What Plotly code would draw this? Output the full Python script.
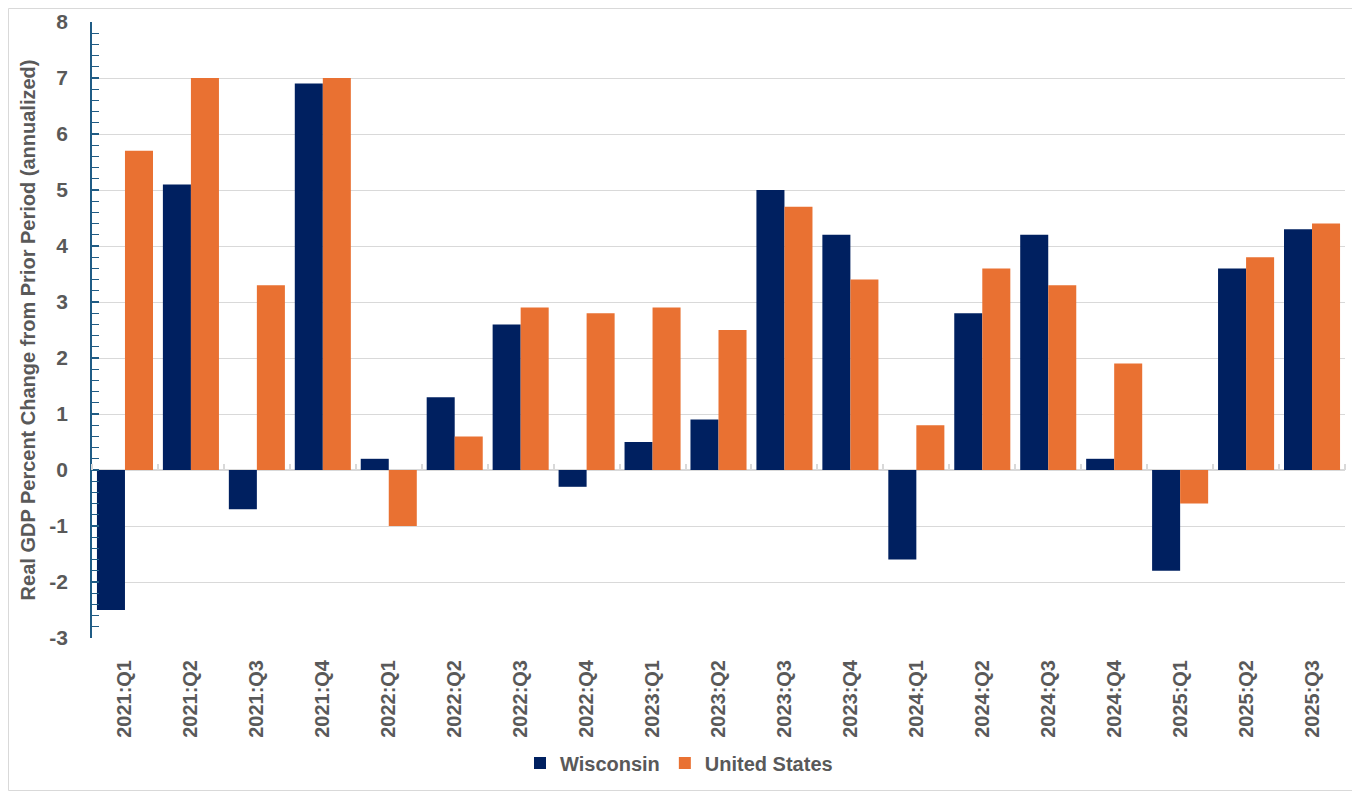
import plotly.graph_objects as go

quarters = ["2021:Q1", "2021:Q2", "2021:Q3", "2021:Q4",
            "2022:Q1", "2022:Q2", "2022:Q3", "2022:Q4",
            "2023:Q1", "2023:Q2", "2023:Q3", "2023:Q4",
            "2024:Q1", "2024:Q2", "2024:Q3", "2024:Q4",
            "2025:Q1", "2025:Q2", "2025:Q3"]
wisconsin = [-2.5, 5.1, -0.7, 6.9, 0.2, 1.3, 2.6, -0.3, 0.5, 0.9,
             5.0, 4.2, -1.6, 2.8, 4.2, 0.2, -1.8, 3.6, 4.3]
united_states = [5.7, 7.0, 3.3, 7.0, -1.0, 0.6, 2.9, 2.8, 2.9, 2.5,
                 4.7, 3.4, 0.8, 3.6, 3.3, 1.9, -0.6, 3.8, 4.4]
y_ticks = [-3, -2, -1, 0, 1, 2, 3, 4, 5, 6, 7, 8]
y_tick_labels = ["-3", "-2", "-1", "0", "1", "2", "3", "4", "5", "6", "7", "8"]

gray = "#595959"
font_family = "Liberation Sans, Arial, sans-serif"
y_min, y_max = -3, 8

fig = go.Figure()
fig.add_trace(go.Bar(x=quarters, y=wisconsin, name="Wisconsin",
                     marker_color="#002060", marker_line_width=0))
fig.add_trace(go.Bar(x=quarters, y=united_states, name="United States",
                     marker_color="#E97132", marker_line_width=0))

# page body has an 8px margin, so the figure is a bit smaller than the window
W, H = 1352, 783
ml, mr, mt, mb = 84, 15, 14, 153
pw, ph = W - ml - mr, H - mt - mb

fig.update_layout(
    width=W, height=H,
    barmode="group", bargap=0.15, bargroupgap=0,
    plot_bgcolor="white", paper_bgcolor="white",
    margin=dict(l=ml, r=mr, t=mt, b=mb, autoexpand=False),
    font=dict(family=font_family, color=gray),
    legend=dict(orientation="h", x=(671 - ml) / pw, xanchor="center",
                y=(mt + ph - 755) / ph, yanchor="middle",
                font=dict(size=20, color=gray, weight="bold"),
                itemwidth=30, traceorder="normal"),
    showlegend=True,
)

fig.update_yaxes(
    range=[y_min, y_max], tickvals=y_ticks, ticktext=y_tick_labels,
    tickfont=dict(size=21, color=gray, weight="bold"),
    showgrid=True, gridcolor="#D9D9D9", gridwidth=1,
    zeroline=True, zerolinecolor="#D9D9D9", zerolinewidth=1.5,
    showline=True, linecolor="#1F5C85", linewidth=1.5,
    ticks="inside", ticklen=7, tickcolor="#1F5C85", tickwidth=1.5,
    minor=dict(dtick=0.2, ticks="inside", ticklen=7, tickcolor="#1F5C85",
               tickwidth=1.2, showgrid=False),
    ticklabelstandoff=18, automargin=False,
    title=dict(text="Real GDP Percent Change from Prior Period (annualized)",
               font=dict(size=20, color=gray, weight="bold"), standoff=8),
)

fig.update_xaxes(
    tickangle=-90, tickfont=dict(size=20, color=gray, weight="bold"),
    showgrid=False, showline=False, ticks="", ticklabelstandoff=17,
    automargin=False,
)

# category axis crossing at zero: small tick marks between the quarters
fig.update_layout(xaxis2=dict(
    overlaying="x", anchor="free", side="top",
    position=(0 - y_min) / (y_max - y_min),
    type="category", categoryarray=quarters, range=[-0.5, len(quarters) - 0.5],
    tickmode="array", tickvals=quarters, tickson="boundaries",
    ticks="outside", ticklen=6, tickcolor="#D9D9D9", tickwidth=1.5,
    showticklabels=False, showgrid=False, showline=False, zeroline=False,
    automargin=False,
))
fig.add_trace(go.Scatter(x=quarters, y=[0] * len(quarters), xaxis="x2",
                         mode="markers", marker_opacity=0, showlegend=False,
                         hoverinfo="skip"))

# thin outer frame around the chart
fig.add_shape(type="rect", xref="paper", yref="paper",
              x0=(0.5 - ml) / pw, x1=(W - 0.5 - ml) / pw,
              y0=-(H - 0.5 - mt - ph) / ph, y1=(mt - 0.5) / ph + 1,
              line=dict(color="#D9D9D9", width=1), layer="below")

fig.write_html("out.html")
